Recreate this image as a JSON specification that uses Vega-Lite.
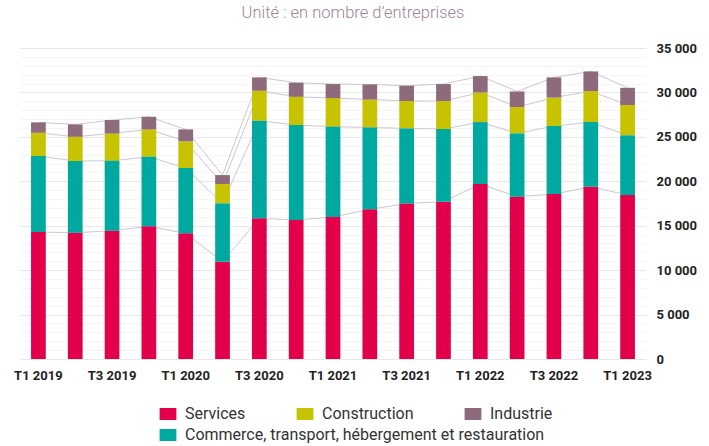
{
  "$schema": "https://vega.github.io/schema/vega-lite/v6.json",
  "width": 626,
  "height": 311,
  "autosize": "none",
  "padding": {"left": 20, "top": 48, "right": 63, "bottom": 87},
  "background": "white",
  "title": {"text": "Unité : en nombre d’entreprises", "fontSize": 16.5, "font": "Roboto", "fontWeight": 300, "color": "#a2829a", "anchor": "middle", "offset": 21, "dx": 20},
  "config": {"view": {"stroke": null}},
  "data": {"values": [
    {"q": "T1 2019", "cat": "Services", "v": 14290}, {"q": "T1 2019", "cat": "Commerce, transport, hébergement et restauration", "v": 8550}, {"q": "T1 2019", "cat": "Construction", "v": 2620}, {"q": "T1 2019", "cat": "Industrie", "v": 1170},
    {"q": "T2 2019", "cat": "Services", "v": 14210}, {"q": "T2 2019", "cat": "Commerce, transport, hébergement et restauration", "v": 8070}, {"q": "T2 2019", "cat": "Construction", "v": 2730}, {"q": "T2 2019", "cat": "Industrie", "v": 1390},
    {"q": "T3 2019", "cat": "Services", "v": 14440}, {"q": "T3 2019", "cat": "Commerce, transport, hébergement et restauration", "v": 7870}, {"q": "T3 2019", "cat": "Construction", "v": 3080}, {"q": "T3 2019", "cat": "Industrie", "v": 1500},
    {"q": "T4 2019", "cat": "Services", "v": 14930}, {"q": "T4 2019", "cat": "Commerce, transport, hébergement et restauration", "v": 7830}, {"q": "T4 2019", "cat": "Construction", "v": 3080}, {"q": "T4 2019", "cat": "Industrie", "v": 1420},
    {"q": "T1 2020", "cat": "Services", "v": 14140}, {"q": "T1 2020", "cat": "Commerce, transport, hébergement et restauration", "v": 7350}, {"q": "T1 2020", "cat": "Construction", "v": 3000}, {"q": "T1 2020", "cat": "Industrie", "v": 1350},
    {"q": "T2 2020", "cat": "Services", "v": 10950}, {"q": "T2 2020", "cat": "Commerce, transport, hébergement et restauration", "v": 6560}, {"q": "T2 2020", "cat": "Construction", "v": 2180}, {"q": "T2 2020", "cat": "Industrie", "v": 1010},
    {"q": "T3 2020", "cat": "Services", "v": 15830}, {"q": "T3 2020", "cat": "Commerce, transport, hébergement et restauration", "v": 10980}, {"q": "T3 2020", "cat": "Construction", "v": 3380}, {"q": "T3 2020", "cat": "Industrie", "v": 1500},
    {"q": "T4 2020", "cat": "Services", "v": 15640}, {"q": "T4 2020", "cat": "Commerce, transport, hébergement et restauration", "v": 10690}, {"q": "T4 2020", "cat": "Construction", "v": 3180}, {"q": "T4 2020", "cat": "Industrie", "v": 1580},
    {"q": "T1 2021", "cat": "Services", "v": 15980}, {"q": "T1 2021", "cat": "Commerce, transport, hébergement et restauration", "v": 10160}, {"q": "T1 2021", "cat": "Construction", "v": 3220}, {"q": "T1 2021", "cat": "Industrie", "v": 1580},
    {"q": "T2 2021", "cat": "Services", "v": 16840}, {"q": "T2 2021", "cat": "Commerce, transport, hébergement et restauration", "v": 9220}, {"q": "T2 2021", "cat": "Construction", "v": 3150}, {"q": "T2 2021", "cat": "Industrie", "v": 1690},
    {"q": "T3 2021", "cat": "Services", "v": 17510}, {"q": "T3 2021", "cat": "Commerce, transport, hébergement et restauration", "v": 8440}, {"q": "T3 2021", "cat": "Construction", "v": 3080}, {"q": "T3 2021", "cat": "Industrie", "v": 1720},
    {"q": "T4 2021", "cat": "Services", "v": 17700}, {"q": "T4 2021", "cat": "Commerce, transport, hébergement et restauration", "v": 8180}, {"q": "T4 2021", "cat": "Construction", "v": 3150}, {"q": "T4 2021", "cat": "Industrie", "v": 1910},
    {"q": "T1 2022", "cat": "Services", "v": 19690}, {"q": "T1 2022", "cat": "Commerce, transport, hébergement et restauration", "v": 6970}, {"q": "T1 2022", "cat": "Construction", "v": 3340}, {"q": "T1 2022", "cat": "Industrie", "v": 1840},
    {"q": "T2 2022", "cat": "Services", "v": 18260}, {"q": "T2 2022", "cat": "Commerce, transport, hébergement et restauration", "v": 7130}, {"q": "T2 2022", "cat": "Construction", "v": 2960}, {"q": "T2 2022", "cat": "Industrie", "v": 1760},
    {"q": "T3 2022", "cat": "Services", "v": 18560}, {"q": "T3 2022", "cat": "Commerce, transport, hébergement et restauration", "v": 7650}, {"q": "T3 2022", "cat": "Construction", "v": 3220}, {"q": "T3 2022", "cat": "Industrie", "v": 2260},
    {"q": "T4 2022", "cat": "Services", "v": 19390}, {"q": "T4 2022", "cat": "Commerce, transport, hébergement et restauration", "v": 7270}, {"q": "T4 2022", "cat": "Construction", "v": 3490}, {"q": "T4 2022", "cat": "Industrie", "v": 2210},
    {"q": "T1 2023", "cat": "Services", "v": 18450}, {"q": "T1 2023", "cat": "Commerce, transport, hébergement et restauration", "v": 6720}, {"q": "T1 2023", "cat": "Construction", "v": 3410}, {"q": "T1 2023", "cat": "Industrie", "v": 1940}
  ]},
  "transform": [
    {"calculate": "indexof(['Services','Commerce, transport, hébergement et restauration','Construction','Industrie'], datum.cat)", "as": "ord"},
    {"stack": "v", "groupby": ["q"], "sort": [{"field": "ord", "order": "ascending"}], "as": ["y0", "y1"]}
  ],
  "encoding": {
    "x": {
      "field": "q", "type": "nominal",
      "scale": {"domain": ["T1 2019","T2 2019","T3 2019","T4 2019","T1 2020","T2 2020","T3 2020","T4 2020","T1 2021","T2 2021","T3 2021","T4 2021","T1 2022","T2 2022","T3 2022","T4 2022","T1 2023"], "paddingInner": 0.6, "paddingOuter": 0.3},
      "axis": {"title": null, "values": ["T1 2019","T3 2019","T1 2020","T3 2020","T1 2021","T3 2021","T1 2022","T3 2022","T1 2023"], "labelAngle": 0, "ticks": false, "domain": false, "grid": false, "labelPadding": 10, "labelFont": "Roboto", "labelFontSize": 13, "labelFontWeight": "bold", "labelColor": "#222222"}
    },
    "y": {
      "field": "y1", "type": "quantitative",
      "scale": {"domain": [0, 35000], "nice": false},
      "axis": {"title": null, "orient": "right", "values": [0,1000,2000,3000,4000,5000,6000,7000,8000,9000,10000,11000,12000,13000,14000,15000,16000,17000,18000,19000,20000,21000,22000,23000,24000,25000,26000,27000,28000,29000,30000,31000,32000,33000,34000,35000],
        "labelExpr": "datum.value % 5000 === 0 ? replace(format(datum.value, ','), ',', ' ') : ''",
        "ticks": false, "domain": false, "labelPadding": 10, "labelFont": "Roboto", "labelFontSize": 13, "labelFontWeight": "bold", "labelColor": "#222222",
        "gridColor": {"condition": {"test": "datum.value % 5000 === 0", "value": "#e8e8e8"}, "value": "#f5f5f5"}}
    }
  },
  "layer": [
    {
      "mark": {"type": "line", "color": "#cdc6d3", "strokeWidth": 1},
      "encoding": {"detail": {"field": "cat"}}
    },
    {
      "transform": [{"filter": "datum.cat !== 'Commerce, transport, hébergement et restauration'"}],
      "mark": {"type": "bar"},
      "encoding": {
        "y2": {"field": "y0"},
        "color": {"field": "cat", "type": "nominal",
          "scale": {"domain": ["Services", "Construction", "Industrie"], "range": ["#e3004b", "#c8c300", "#8d6b7d"]},
          "legend": {"title": null, "orient": "none", "legendX": 140, "legendY": 358, "direction": "horizontal", "columnPadding": 50, "symbolType": "M-1.4,-1H1.4V1H-1.4Z", "symbolSize": 144, "symbolStrokeWidth": 0, "labelFont": "Roboto", "labelFontSize": 16, "labelColor": "#333333", "labelOffset": 9}}
      }
    },
    {
      "transform": [{"filter": "datum.cat === 'Commerce, transport, hébergement et restauration'"}],
      "mark": {"type": "bar"},
      "encoding": {
        "y2": {"field": "y0"},
        "fill": {"field": "cat", "type": "nominal",
          "scale": {"domain": ["Commerce, transport, hébergement et restauration"], "range": ["#00a9a0"]},
          "legend": {"title": null, "orient": "none", "legendX": 140, "legendY": 379, "direction": "horizontal", "symbolType": "M-1.4,-1H1.4V1H-1.4Z", "symbolSize": 144, "symbolStrokeWidth": 0, "labelFont": "Roboto", "labelFontSize": 16, "labelColor": "#333333", "labelOffset": 9, "labelLimit": 500}}
      }
    }
  ]
}
